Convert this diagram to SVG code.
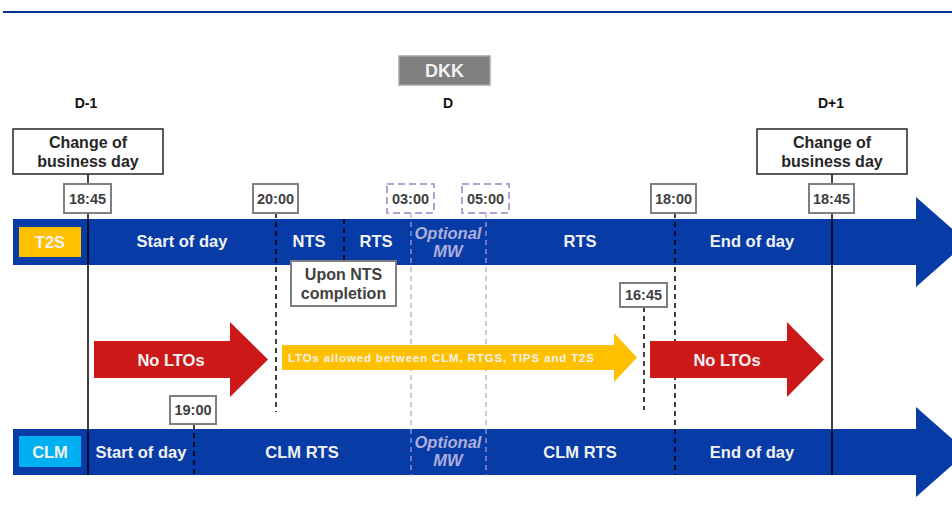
<svg xmlns="http://www.w3.org/2000/svg" width="952" height="507" viewBox="0 0 952 507">
<style>
text{font-family:"Liberation Sans",Arial,sans-serif;}
.bar{fill:#073ba6;}
.bt{fill:#f2f2f2;font-size:16.5px;font-weight:bold;text-anchor:middle;dominant-baseline:central;}
.opt{fill:#aeaedc;font-size:16.5px;font-style:italic;font-weight:bold;text-anchor:middle;dominant-baseline:central;}
.tb{fill:#fff;stroke:#7f7f7f;stroke-width:2;}
.tbd{fill:#fff;stroke:#b4a0d2;stroke-width:2;stroke-dasharray:7,4;}
.tt{fill:#404040;font-size:14.5px;font-weight:bold;text-anchor:middle;dominant-baseline:central;}
.cb{fill:#fff;stroke:#262626;stroke-width:1.5;}
.ct{fill:#262626;font-size:16px;font-weight:bold;text-anchor:middle;dominant-baseline:central;}
.day{fill:#111;font-size:14px;font-weight:bold;text-anchor:middle;dominant-baseline:central;}
.solid{stroke:#000;stroke-width:1.5;fill:none;}
.dash{stroke:#000;stroke-width:1.5;stroke-dasharray:5,4;fill:none;}
.pdash{stroke:#b4a0d2;stroke-width:1.2;stroke-dasharray:5,4;fill:none;}
.red{fill:#cc1818;}
.yel{fill:#ffc000;}
</style>
<line x1="3" y1="12" x2="952" y2="12" stroke="#003399" stroke-width="2"/>
<g id="dkk"><rect x="399" y="56" width="91" height="29" fill="#7f7f7f" stroke="#a6a6a6" stroke-width="1.5"/><text x="444.5" y="71" class="bt" style="font-size:18px">DKK</text></g>
<g id="days">
<text x="86" y="103" class="day">D-1</text>
<text x="448" y="103" class="day">D</text>
<text x="831" y="103" class="day">D+1</text>
</g>
<g id="t2s-bar">
<polygon class="bar" points="13,219 916,219 916,197 967,242 916,287 916,265 13,265"/>
<rect x="19" y="227" width="62" height="30" fill="#ffc000"/>
<text x="50" y="242" class="bt">T2S</text>
<text x="182" y="241" class="bt">Start of day</text>
<text x="309" y="241" class="bt">NTS</text>
<text x="376" y="241" class="bt">RTS</text>
<text x="448" y="233" class="opt">Optional</text>
<text x="448" y="251" class="opt">MW</text>
<text x="580" y="241" class="bt">RTS</text>
<text x="752" y="241" class="bt">End of day</text>
</g>
<g id="clm-bar">
<polygon class="bar" points="13,429 916,429 916,407 967,452 916,497 916,475 13,475"/>
<rect x="19" y="436" width="62" height="31" fill="#00b0f0"/>
<text x="50" y="452" class="bt">CLM</text>
<text x="141" y="452" class="bt">Start of day</text>
<text x="302" y="452" class="bt">CLM RTS</text>
<text x="448" y="442" class="opt">Optional</text>
<text x="448" y="460" class="opt">MW</text>
<text x="580" y="452" class="bt">CLM RTS</text>
<text x="752" y="452" class="bt">End of day</text>
</g>
<g id="connectors">
<line class="solid" x1="88" y1="174" x2="88" y2="184"/>
<line class="solid" x1="88" y1="213" x2="88" y2="475"/>
<line class="solid" x1="832" y1="174" x2="832" y2="184"/>
<line class="solid" x1="832" y1="213" x2="832" y2="475"/>
<line class="dash" x1="276" y1="213" x2="276" y2="412"/>
<line class="dash" x1="344" y1="219" x2="344" y2="261"/>
<line class="pdash" x1="411" y1="213" x2="411" y2="476"/>
<line class="pdash" x1="486" y1="213" x2="486" y2="476"/>
<line class="dash" x1="675" y1="213" x2="675" y2="475"/>
<line class="dash" x1="644" y1="307" x2="644" y2="410"/>
<line class="dash" x1="194" y1="424" x2="194" y2="475"/>
</g>
<g id="change-left"><rect class="cb" x="13" y="129" width="150" height="45"/><text x="88" y="142" class="ct">Change of</text><text x="88" y="161" class="ct">business day</text></g>
<g id="change-right"><rect class="cb" x="757" y="129" width="150" height="45"/><text x="832" y="142" class="ct">Change of</text><text x="832" y="161" class="ct">business day</text></g>
<g id="t1845a"><rect class="tb" x="64" y="184" width="47" height="29"/><text x="87.5" y="198.5" class="tt">18:45</text></g>
<g id="t2000"><rect class="tb" x="253" y="184" width="45" height="29"/><text x="275.5" y="198.5" class="tt">20:00</text></g>
<g id="t0300"><rect class="tbd" x="387" y="184" width="47" height="29"/><text x="410.5" y="198.5" class="tt">03:00</text></g>
<g id="t0500"><rect class="tbd" x="462" y="184" width="47" height="29"/><text x="485.5" y="198.5" class="tt">05:00</text></g>
<g id="t1800"><rect class="tb" x="651" y="184" width="45" height="29"/><text x="673.5" y="198.5" class="tt">18:00</text></g>
<g id="t1845b"><rect class="tb" x="809" y="184" width="45" height="29"/><text x="831.5" y="198.5" class="tt">18:45</text></g>
<g id="upon-nts"><rect class="tb" x="291" y="261" width="105" height="45"/><text x="343.5" y="274" class="ct" style="fill:#404040">Upon NTS</text><text x="343.5" y="293" class="ct" style="fill:#404040">completion</text></g>
<g id="t1645"><rect class="tb" x="620" y="283" width="47" height="24"/><text x="643.5" y="295" class="tt">16:45</text></g>
<g id="t1900"><rect class="tb" x="170" y="396" width="46" height="28"/><text x="193" y="410" class="tt">19:00</text></g>
<g id="nolto-left"><polygon class="red" points="94,341 230,341 230,322 268,359.5 230,397 230,378 94,378"/><text x="171" y="360" class="bt">No LTOs</text></g>
<g id="lto-allowed"><polygon class="yel" points="282,345 614,345 614,333 637,357.5 614,382 614,370 282,370"/><text x="441" y="358" class="bt" style="font-size:11.5px" textLength="306" lengthAdjust="spacing">LTOs  allowed between CLM, RTGS,  TIPS  and T2S</text></g>
<g id="nolto-right"><polygon class="red" points="650,341 787,341 787,322 824,359.5 787,397 787,378 650,378"/><text x="727" y="360" class="bt">No LTOs</text></g>
</svg>
